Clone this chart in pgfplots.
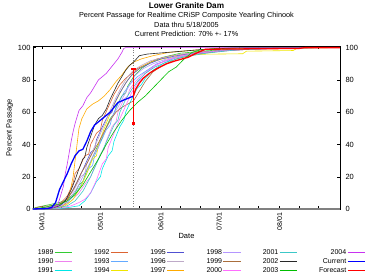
\documentclass[border=0pt]{standalone}
\usepackage{pgfplots}
\pgfplotsset{compat=1.18}
\usepackage{fontspec}
\setmainfont{Liberation Sans}

\definecolor{c1989}{RGB}{51,204,51}
\definecolor{c1990}{RGB}{238,130,238}
\definecolor{c1991}{RGB}{0,230,230}
\definecolor{c1992}{RGB}{220,100,50}
\definecolor{c1993}{RGB}{100,170,255}
\definecolor{c1994}{RGB}{240,230,0}
\definecolor{c1995}{RGB}{80,80,210}
\definecolor{c1996}{RGB}{190,170,200}
\definecolor{c1997}{RGB}{255,170,0}
\definecolor{c1998}{RGB}{180,150,255}
\definecolor{c1999}{RGB}{170,110,60}
\definecolor{c2000}{RGB}{255,110,255}
\definecolor{c2001}{RGB}{60,200,200}
\definecolor{c2002}{RGB}{40,40,40}
\definecolor{c2003}{RGB}{0,190,0}
\definecolor{c2004}{RGB}{200,50,240}

\begin{document}
\begin{tikzpicture}
\begin{axis}[
    scale only axis,
    width=307pt, height=163pt,
    xmin=86.4, xmax=244,
    ymin=0, ymax=101,
    xtick={91,121,152,182,213},
    xticklabels={04/01,05/01,06/01,07/01,08/01},
    minor xtick={101,111,131,141,162,172,192,202,223,233},
    ytick={0,20,40,60,80,100},
    tick align=inside,
    major tick length=3pt, minor tick length=3pt,
    tick style={black, thin},
    /pgf/number format/assume math mode=true,
    tick label style={font=\fontsize{7.5}{8}\selectfont},
    xticklabel style={rotate=90, anchor=east, font=\fontsize{7}{8}\selectfont},
    yticklabel style={xshift=1pt},
    xlabel={Date},
    xlabel style={font=\fontsize{7.5}{8}\selectfont, yshift=4pt},
    ylabel={Percent Passage},
    ylabel style={font=\fontsize{7.5}{8}\selectfont, yshift=-2pt},
    title={{\fontsize{8.2}{9.5}\selectfont\bfseries Lower Granite Dam}\\Percent Passage for Realtime CRiSP Composite Yearling Chinook\\Data thru 5/18/2005\\Current Prediction: 70\% +- 17\%},
    title style={align=center, font=\fontsize{7.3}{9.6}\selectfont, yshift=-0.5pt},
    legend columns=6,
    legend plot pos=right,
    legend cell align=right,
    legend style={at={(0.548,0)}, anchor=north, yshift=-37pt, draw=none,
        font=\fontsize{7}{7}\selectfont, row sep=0.6pt,
        /tikz/every even column/.append style={column sep=21pt},
        nodes={inner sep=1pt}},
    every axis plot/.append style={line width=0.6pt},
]
\draw[gray, line width=1.2pt] (rel axis cs:0,0) -- (rel axis cs:1,0);
\addplot[gray, dotted, thin, forget plot] coordinates {(138,0)(138,100)};

\addplot[c1989, forget plot] coordinates {(86,0)(88,1)(92,2)(96,3)(100,4)(104,6)(108,10)(110,15)(112,17)(114,24)(116,29)(117,32)(120,40)(122,44)(123,48)(126,56)(128,59)(129,63)(132,70)(134,72)(135,76)(138,82)(142,87)(147,91)(153,94)(162,96.5)(175,98)(195,99.5)(215,100)(244,100)};
\addplot[c1990, forget plot] coordinates {(86,0)(96,0.5)(102,2)(106,5)(110,10)(114,17)(116,20)(118,26)(121,34)(123,37)(124,42)(127,51)(129,54)(130,60)(133,68)(135,70)(136,74)(139,79)(143,84)(148,88)(154,92)(162,95)(172,97)(188,98.5)(210,99.5)(235,100)(244,100)};
\addplot[c1991, forget plot] coordinates {(86,0)(100,0.3)(105,1)(110,2)(113,5)(116,10)(119,17)(121,20)(122,25)(125,33)(127,36)(128,42)(131,51)(133,55)(134,60)(137,68)(140,75)(142,77)(144,81)(148,86)(153,90)(160,94)(170,96.5)(185,98.5)(205,99.5)(230,100)(244,100)};
\addplot[c1992, forget plot] coordinates {(86,0)(95,1)(100,3)(104,8)(107,16)(108,22)(110,25)(113,33)(115,34)(116,40)(119,47)(121,49)(122,55)(125,63)(128,71)(131,77)(134,81)(137,84)(140,87)(145,90)(150,93)(158,95)(170,97)(185,98.5)(205,99.5)(230,100)(244,100)};
\addplot[c1993, forget plot] coordinates {(86,0)(95,1)(100,2)(104,4)(108,9)(112,17)(115,25)(117,27)(118,33)(121,41)(124,49)(126,52)(127,57)(130,65)(133,72)(136,77)(140,82)(145,86)(150,90)(158,93)(168,96)(182,98)(200,99.5)(225,100)(244,100)};
\addplot[c1994, forget plot] coordinates {(86,0)(98,0.5)(103,2)(107,6)(111,14)(114,22)(117,31)(119,33)(120,40)(123,50)(126,59)(129,67)(132,74)(135,80)(138,84)(142,88)(147,91)(153,93)(160,94.5)(167,95.8)(194,96.2)(196,97.8)(220,98.2)(222,99.6)(240,100)(244,100)};
\addplot[c1995, forget plot] coordinates {(86,0)(92,0.5)(98,1.5)(102,4)(106,10)(110,19)(113,27)(116,35)(118,37)(119,43)(122,51)(125,58)(127,60)(128,65)(131,72)(134,78)(137,83)(141,87)(146,90)(152,93)(160,95)(172,97)(188,98.5)(210,99.5)(232,100)(244,100)};
\addplot[c1996, forget plot] coordinates {(86,0)(94,1)(99,2)(103,5)(107,11)(111,20)(113,22)(114,28)(117,36)(120,44)(123,52)(126,61)(129,69)(132,76)(135,82)(138,86)(142,89)(147,92)(154,94)(163,96)(176,97.5)(195,99)(220,100)(244,100)};
\addplot[c1997, forget plot] coordinates {(86,0)(100,1)(103,3)(105,8)(107,20)(108.5,35)(110,50)(111.5,56)(114,62)(117,65)(120,67)(123,70)(126,74)(129,79)(132,83)(135,88)(138,91)(142,93)(148,95)(156,97)(170,98.5)(190,99.5)(210,100)(244,100)};
\addplot[c1998, forget plot] coordinates {(86,0)(96,0.5)(101,2)(105,6)(109,13)(112,20)(115,27)(118,35)(120,38)(121,43)(124,50)(127,57)(130,63)(133,70)(136,77)(139,83)(143,87)(148,90)(155,93)(165,95.5)(178,97.5)(195,99)(220,100)(244,100)};
\addplot[c1999, forget plot] coordinates {(86,0)(90,1.5)(95,2)(100,3)(104,6)(108,14)(111,22)(114,28)(117,35)(120,41)(123,48)(126,55)(129,60)(132,63)(135,65)(138,67)(141,73)(144,79)(148,85)(153,89)(160,93)(170,96)(185,98)(205,99.5)(230,100)(244,100)};
\addplot[c2000, forget plot] coordinates {(86,0)(100,0.5)(106,2)(110,4)(113,6)(116,10)(119,18)(122,28)(124,31)(125,38)(128,47)(131,56)(134,64)(137,72)(140,78)(144,84)(149,89)(155,92)(163,95)(175,97)(190,98.5)(210,99.5)(235,100)(244,100)};
\addplot[c2001, forget plot] coordinates {(86,0)(98,0.5)(104,2)(108,5)(112,11)(116,20)(119,28)(122,36)(125,44)(128,52)(130,55)(131,60)(134,68)(137,74)(140,79)(144,84)(149,88)(155,91)(163,94)(175,96.5)(190,98.5)(210,99.5)(235,100)(244,100)};
\addplot[c2002, forget plot] coordinates {(86,0)(96,0.5)(100,2)(103,5)(106,12)(108,18)(110,25)(112,31)(113,32)(114,38)(116,45)(118,52)(120,56)(122,58)(124,62)(126,68)(128,73)(130,78)(132,82)(134,86)(136,89)(138,91)(141,95)(145,96)(155,97)(165,98)(175,99)(185,99.5)(195,100)(244,100)};
\addplot[c2003, forget plot] coordinates {(86,0)(92,1)(96,2)(100,3)(104,5)(108,9)(112,15)(116,23)(120,31)(124,40)(128,48)(132,55)(136,61)(140,66)(144,70)(148,75)(152,80)(156,85)(160,88)(164,93)(168,97)(172,98.5)(180,99.5)(190,100)(244,100)};
\addplot[c2004, forget plot] coordinates {(86,0)(96,0.5)(99,2)(100,6)(101,10)(102,14)(103,22)(104,28)(105,35)(106,42)(107,48)(108,53)(110,61)(112,64)(114,69)(116,72)(118,76)(120,80)(122,82)(124,84)(126,87)(128,90)(130,93)(132,97)(133,99.5)(134,100)(244,100)};

% current year
\addplot[blue, line width=1.3pt, forget plot] coordinates {(86,0)(94,0.3)(96,1)(98,4)(100,12)(102,17)(104,22)(106,28)(108,33)(110,36)(112,37)(114,42)(116,48)(118,52)(120,54)(122,56)(124,58)(126,60)(128,63)(130,66)(132,67)(134,68)(136,69)(138,70)};
% forecast
\addplot[red, line width=1.3pt, forget plot] coordinates {(138,70)(139,74)(141,78)(143,81)(146,84)(150,87)(155,90)(160,92)(166,94)(171,97)(175,99)(223,99.5)(226,100)(244,100)};
% prediction interval 70 +- 17, as filled shapes
\addplot[fill=red, draw=none, forget plot] coordinates {(137.55,53)(138.45,53)(138.45,87)(137.55,87)} -- cycle;
\addplot[fill=red, draw=none, forget plot] coordinates {(136.6,86.4)(139.4,86.4)(139.4,87.4)(136.6,87.4)} -- cycle;
\addplot[fill=red, draw=none, forget plot] coordinates {(137.2,51.9)(138.8,51.9)(138.8,54.1)(137.2,54.1)} -- cycle;

% legend, filled row by row
\addlegendimage{c1989}\addlegendentry{1989}
\addlegendimage{c1992}\addlegendentry{1992}
\addlegendimage{c1995}\addlegendentry{1995}
\addlegendimage{c1998}\addlegendentry{1998}
\addlegendimage{c2001}\addlegendentry{2001}
\addlegendimage{c2004}\addlegendentry{2004}
\addlegendimage{c1990}\addlegendentry{1990}
\addlegendimage{c1993}\addlegendentry{1993}
\addlegendimage{c1996}\addlegendentry{1996}
\addlegendimage{c1999}\addlegendentry{1999}
\addlegendimage{c2002}\addlegendentry{2002}
\addlegendimage{blue, line width=1.3pt}\addlegendentry{Current}
\addlegendimage{c1991}\addlegendentry{1991}
\addlegendimage{c1994}\addlegendentry{1994}
\addlegendimage{c1997}\addlegendentry{1997}
\addlegendimage{c2000}\addlegendentry{2000}
\addlegendimage{c2003}\addlegendentry{2003}
\addlegendimage{red, line width=1.3pt}\addlegendentry{Forecast}
\end{axis}

% right-hand tick labels
\begin{axis}[
    scale only axis,
    width=307pt, height=163pt,
    xmin=86.4, xmax=244,
    ymin=0, ymax=101,
    axis x line=none,
    axis y line*=right,
    ytick={0,20,40,60,80,100},
    tick style={draw=none},
    /pgf/number format/assume math mode=true,
    tick label style={font=\fontsize{7.5}{8}\selectfont},
    yticklabel style={xshift=2pt},
]
\end{axis}

\pgfresetboundingbox
\path (current axis.south west) ++(-33pt,-67pt) rectangle ++(371pt,276pt);
\end{tikzpicture}
\end{document}
